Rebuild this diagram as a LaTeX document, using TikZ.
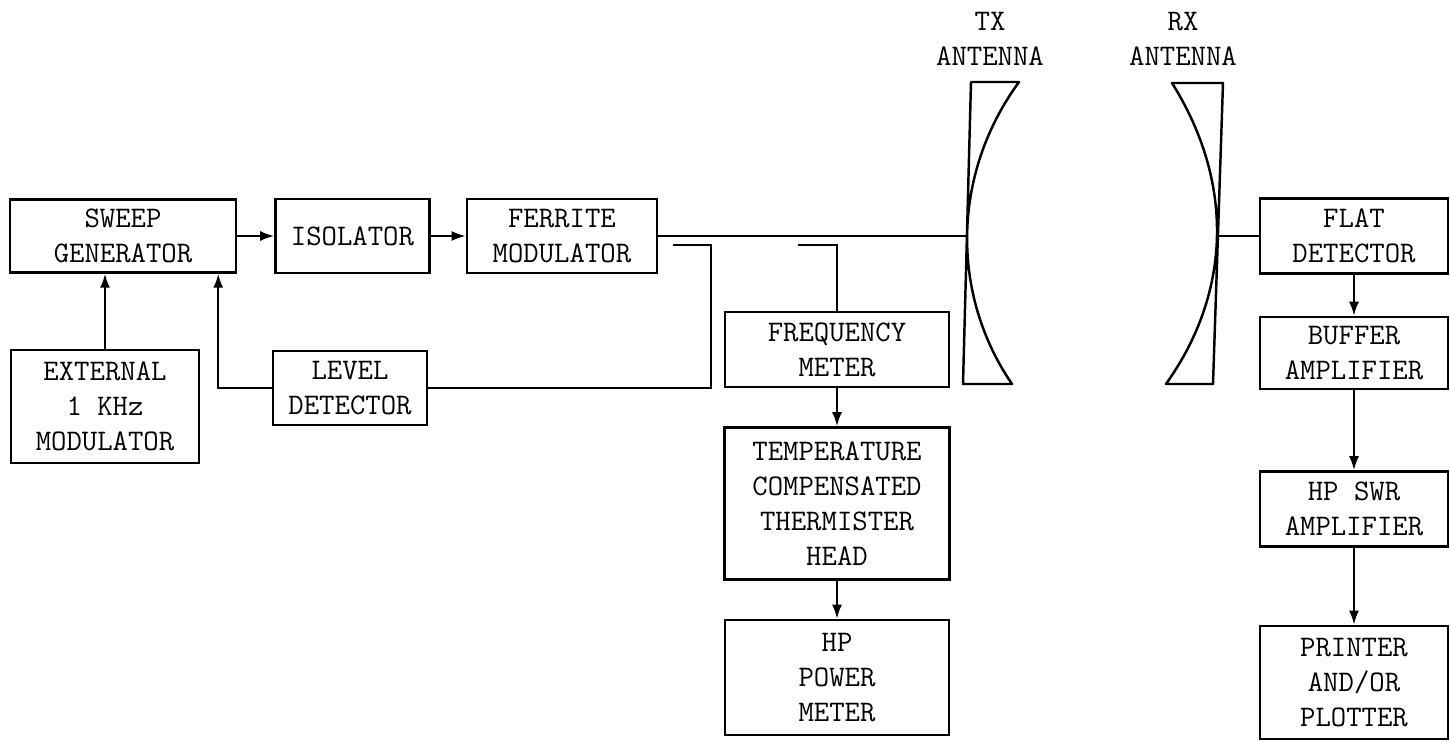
\documentclass[tikz,border=0pt]{standalone}
\usepackage{fontspec}
\usepackage{tikz}
\usetikzlibrary{arrows.meta,positioning,calc}
\tikzset{
  benchbox/.style={draw=black, line width=1.4pt, fill=white, align=center, inner sep=2pt, font=\ttfamily\fontsize{17}{20}\selectfont},
  benchlabel/.style={align=center, inner sep=0pt, font=\ttfamily\fontsize{17}{20}\selectfont},
  benchline/.style={line width=1.2pt},
  bencharrow/.style={-{Latex[length=2.8mm,width=2mm]}, line width=1.2pt},
  benchant/.style={line width=1.4pt, line join=round}
}

\begin{document}
\begin{tikzpicture}[node distance=0.8cm and 0.7cm]
  \useasboundingbox (0,0) rectangle (29,-14.84);

  % source side
  \node[benchbox, minimum width=4.52cm, minimum height=1.46cm] (sweep) at (2.46,-4.72) {SWEEP\\GENERATOR};
  \node[benchbox, right=0.74cm of sweep, minimum width=3.08cm, minimum height=1.48cm] (iso) {ISOLATOR};
  \node[benchbox, right=0.70cm of iso, minimum width=3.80cm, minimum height=1.48cm] (ferrite) {FERRITE\\MODULATOR};
  \node[benchbox, minimum width=3.76cm, minimum height=2.26cm] (extmod) at (2.10,-8.13) {EXTERNAL\\1 KHz\\MODULATOR};
  \node[benchbox, minimum width=3.08cm, minimum height=1.48cm] (level) at (7.00,-7.76) {LEVEL\\DETECTOR};

  % power monitor
  \node[benchbox, minimum width=4.48cm, minimum height=1.50cm] (freq) at (16.74,-6.99) {FREQUENCY\\METER};
  \node[benchbox, below=0.76cm of freq, minimum width=4.50cm, minimum height=3.04cm] (therm) {TEMPERATURE\\COMPENSATED\\THERMISTER\\HEAD};
  \node[benchbox, below=0.76cm of therm, minimum width=4.48cm, minimum height=2.30cm] (pwr) {HP\\POWER\\METER};

  % receive side
  \node[benchbox, minimum width=3.76cm, minimum height=1.50cm] (flat) at (27.08,-4.72) {FLAT\\DETECTOR};
  \node[benchbox, below=0.82cm of flat, minimum width=3.76cm, minimum height=1.44cm] (buffer) {BUFFER\\AMPLIFIER};
  \node[benchbox, below=1.60cm of buffer, minimum width=3.76cm, minimum height=1.50cm] (swr) {HP SWR\\AMPLIFIER};
  \node[benchbox, below=1.54cm of swr, minimum width=3.76cm, minimum height=2.26cm] (printer) {PRINTER\\AND/OR\\PLOTTER};

  % antennas
  \draw[benchant] (19.42,-1.64) -- (20.38,-1.64) .. controls (19.02,-3.50) and (19.02,-5.90) .. (20.24,-7.68) -- (19.26,-7.68) -- cycle;
  \draw[benchant] (23.44,-1.66) -- (24.46,-1.66) -- (24.26,-7.68) -- (23.32,-7.68) .. controls (24.66,-5.80) and (24.66,-3.60) .. cycle;
  \node[benchlabel] (txlab) at (19.80,-0.77) {TX\\ANTENNA};
  \node[benchlabel] (rxlab) at (23.66,-0.77) {RX\\ANTENNA};
  \coordinate (txfeed) at (19.34,-4.72);
  \coordinate (rxfeed) at (24.34,-4.72);
  \coordinate (lvtap) at (13.46,-4.90);
  \coordinate (fmtap) at (15.96,-4.90);

  \draw[bencharrow] (sweep) -- (iso);
  \draw[bencharrow] (iso) -- (ferrite);
  \draw[benchline] (ferrite.east) -- (txfeed);
  \draw[bencharrow] (extmod.north) -- (extmod.north |- sweep.south);
  \draw[benchline] (lvtap) -- ++(0.76,0) |- (level.east);
  \draw[bencharrow] (level.west) -| ([xshift=-0.38cm]sweep.south east);
  \draw[benchline] (fmtap) -| (freq.north);
  \draw[bencharrow] (freq.south) -- (freq.south |- therm.north);
  \draw[bencharrow] (therm.south) -- (therm.south |- pwr.north);
  \draw[benchline] (rxfeed) -- (flat.west);
  \draw[bencharrow] (flat) -- (buffer);
  \draw[bencharrow] (buffer) -- (swr);
  \draw[bencharrow] (swr) -- (printer);
\end{tikzpicture}
\end{document}
